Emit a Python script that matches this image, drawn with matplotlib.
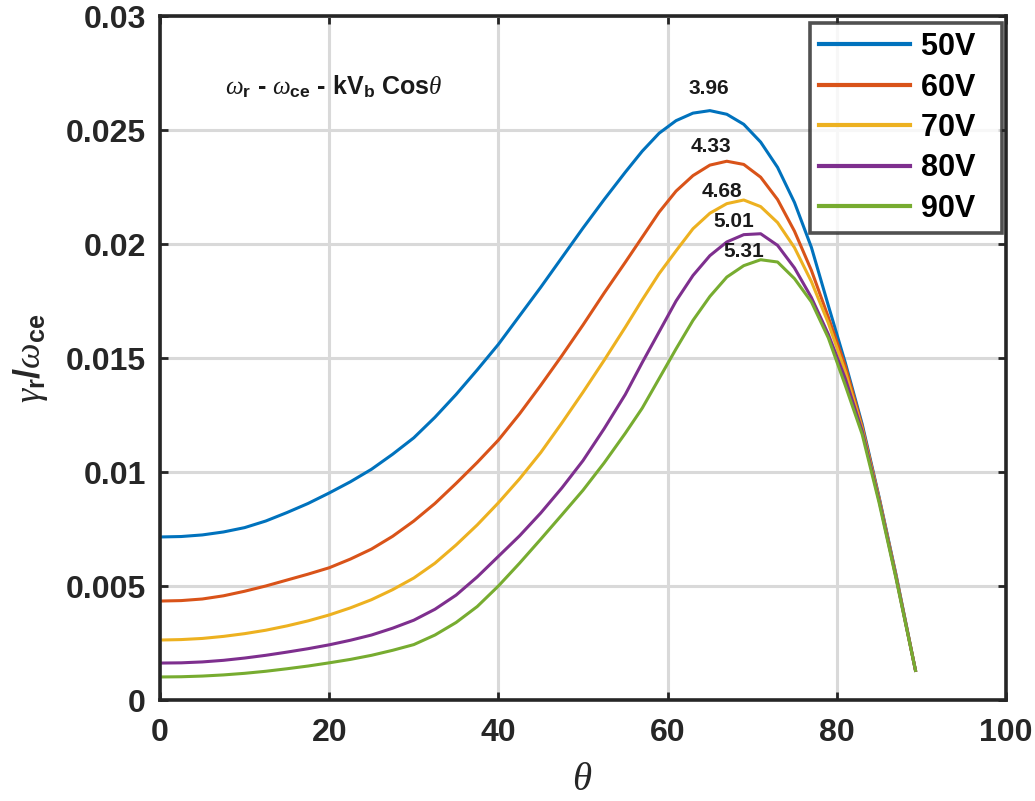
import matplotlib
matplotlib.use("Agg")
import matplotlib.pyplot as plt

plt.rcParams["font.family"] = ["Liberation Sans", "DejaVu Sans"]
plt.rcParams["mathtext.fontset"] = "custom"
plt.rcParams["mathtext.it"] = "Liberation Serif:italic"
plt.rcParams["mathtext.rm"] = "Liberation Sans:bold"
plt.rcParams["mathtext.bf"] = "Liberation Sans:bold"

# theta (deg) grid shared by all series (finer near the peaks)
theta = [0, 2.5, 5, 7.5, 10, 12.5, 15, 17.5, 20, 22.5, 25, 27.5, 30, 32.5, 35,
         37.5, 40, 42.5, 45, 47.5, 50, 52.5, 55, 57, 59, 61, 63, 65, 67, 69,
         71, 73, 75, 77, 79, 81, 83, 85, 87, 89.3]

v50 = [0.00715, 0.00717, 0.00724, 0.00737, 0.00756, 0.00785, 0.00822, 0.00862,
       0.00908, 0.00957, 0.01012, 0.01078, 0.01150, 0.01240, 0.01340, 0.01448,
       0.01560, 0.01685, 0.01810, 0.01940, 0.02070, 0.02195, 0.02315, 0.02407,
       0.02486, 0.02541, 0.02574, 0.02585, 0.02569, 0.02525, 0.02447, 0.02336,
       0.02182, 0.01985, 0.01730, 0.01480, 0.01210, 0.00890, 0.00550, 0.00130]
v60 = [0.00434, 0.00436, 0.00443, 0.00457, 0.00477, 0.00500, 0.00526, 0.00552,
       0.00580, 0.00618, 0.00662, 0.00718, 0.00785, 0.00862, 0.00950, 0.01042,
       0.01140, 0.01255, 0.01380, 0.01510, 0.01645, 0.01785, 0.01920, 0.02030,
       0.02140, 0.02232, 0.02300, 0.02346, 0.02363, 0.02349, 0.02293, 0.02195,
       0.02056, 0.01884, 0.01679, 0.01465, 0.01200, 0.00885, 0.00545, 0.00130]
v70 = [0.00263, 0.00265, 0.00270, 0.00279, 0.00291, 0.00306, 0.00325, 0.00347,
       0.00373, 0.00404, 0.00440, 0.00484, 0.00535, 0.00600, 0.00680, 0.00768,
       0.00865, 0.00970, 0.01085, 0.01215, 0.01350, 0.01490, 0.01635, 0.01755,
       0.01870, 0.01970, 0.02067, 0.02135, 0.02177, 0.02193, 0.02164, 0.02094,
       0.01984, 0.01835, 0.01653, 0.01440, 0.01190, 0.00880, 0.00542, 0.00130]
v80 = [0.00162, 0.00163, 0.00167, 0.00174, 0.00184, 0.00196, 0.00210, 0.00225,
       0.00242, 0.00262, 0.00285, 0.00315, 0.00350, 0.00398, 0.00460, 0.00540,
       0.00630, 0.00720, 0.00820, 0.00930, 0.01050, 0.01190, 0.01340, 0.01480,
       0.01615, 0.01750, 0.01862, 0.01949, 0.02009, 0.02041, 0.02045, 0.01994,
       0.01895, 0.01765, 0.01604, 0.01410, 0.01180, 0.00875, 0.00538, 0.00130]
v90 = [0.00101, 0.00102, 0.00105, 0.00110, 0.00117, 0.00126, 0.00137, 0.00149,
       0.00163, 0.00178, 0.00196, 0.00218, 0.00243, 0.00285, 0.00340, 0.00410,
       0.00500, 0.00600, 0.00705, 0.00812, 0.00920, 0.01040, 0.01170, 0.01280,
       0.01410, 0.01540, 0.01665, 0.01770, 0.01855, 0.01905, 0.01931, 0.01921,
       0.01848, 0.01746, 0.01588, 0.01380, 0.01165, 0.00865, 0.00533, 0.00130]

series = [v50, v60, v70, v80, v90]
labels = ["50V", "60V", "70V", "80V", "90V"]
colors = ["#0072BD", "#D95319", "#EDB120", "#7E2F8E", "#77AC30"]

# peak annotations
peak_text = ["3.96", "4.33", "4.68", "5.01", "5.31"]
peak_x = [64.9, 65.1, 66.4, 67.8, 69.0]
peak_y = [0.02683, 0.02427, 0.02230, 0.02098, 0.01966]

xticks = [0, 20, 40, 60, 80, 100]
yticks = [0, 0.005, 0.01, 0.015, 0.02, 0.025, 0.03]
ytick_labels = ["0", "0.005", "0.01", "0.015", "0.02", "0.025", "0.03"]

W, H = 1035, 801
fig = plt.figure(figsize=(W / 100, H / 100), dpi=100)
ax = fig.add_axes([160 / W, 1 - 700 / H, (1006 - 160) / W, (700 - 16) / H])

for vals, lab, c in zip(series, labels, colors):
    ax.plot(theta, vals, color=c, linewidth=2.2, label=lab + "  ")

for t, x, y in zip(peak_text, peak_x, peak_y):
    ax.text(x, y, t, ha="center", va="center", fontsize=15, fontweight="bold",
            color="#1a1a1a")

ax.text(7.7, 0.0269, r"$\omega_{\mathrm{r}}$ - $\omega_{\mathrm{ce}}$ - kV$_{\mathrm{b}}$ Cos$\theta$",
        ha="left", va="center", fontsize=18, fontweight="bold", color="#1a1a1a")

ax.set_xlim(0, 100)
ax.set_ylim(0, 0.03)
ax.set_xticks(xticks)
ax.set_xticklabels([str(t) for t in xticks])
ax.set_yticks(yticks)
ax.set_yticklabels(ytick_labels)
ax.grid(True, color="#d9d9d9", linewidth=2.2)
ax.set_axisbelow(True)
ax.tick_params(direction="in", length=6, width=2, top=True, right=True,
               labelsize=23, colors="#262626")
ax.tick_params(axis="x", pad=13)
ax.tick_params(axis="y", pad=10)
for lbl in ax.get_xticklabels() + ax.get_yticklabels():
    lbl.set_fontweight("bold")
for sp in ax.spines.values():
    sp.set_linewidth(2.6)
    sp.set_color("#262626")

fig.text(582 / W, 1 - 780 / H, r"$\theta$", ha="center", va="center",
         fontsize=28, color="#262626")
fig.text(30 / W, 1 - 358 / H, r"$\gamma_{\mathrm{r}}/\omega_{\mathrm{ce}}$",
         ha="center", va="center", rotation=90, fontsize=26, color="#262626")

leg = fig.legend(loc="upper right", bbox_to_anchor=(1002 / W, 1 - 23 / H),
                 prop={"weight": "bold", "size": 22},
                 frameon=True, fancybox=False, edgecolor="#262626",
                 handlelength=3.0, handletextpad=0.36, labelspacing=0.34,
                 borderpad=0.3, borderaxespad=0)
leg.get_frame().set_linewidth(2.6)
for line in leg.get_lines():
    line.set_linewidth(3)

fig.savefig("out.png", dpi=100)
